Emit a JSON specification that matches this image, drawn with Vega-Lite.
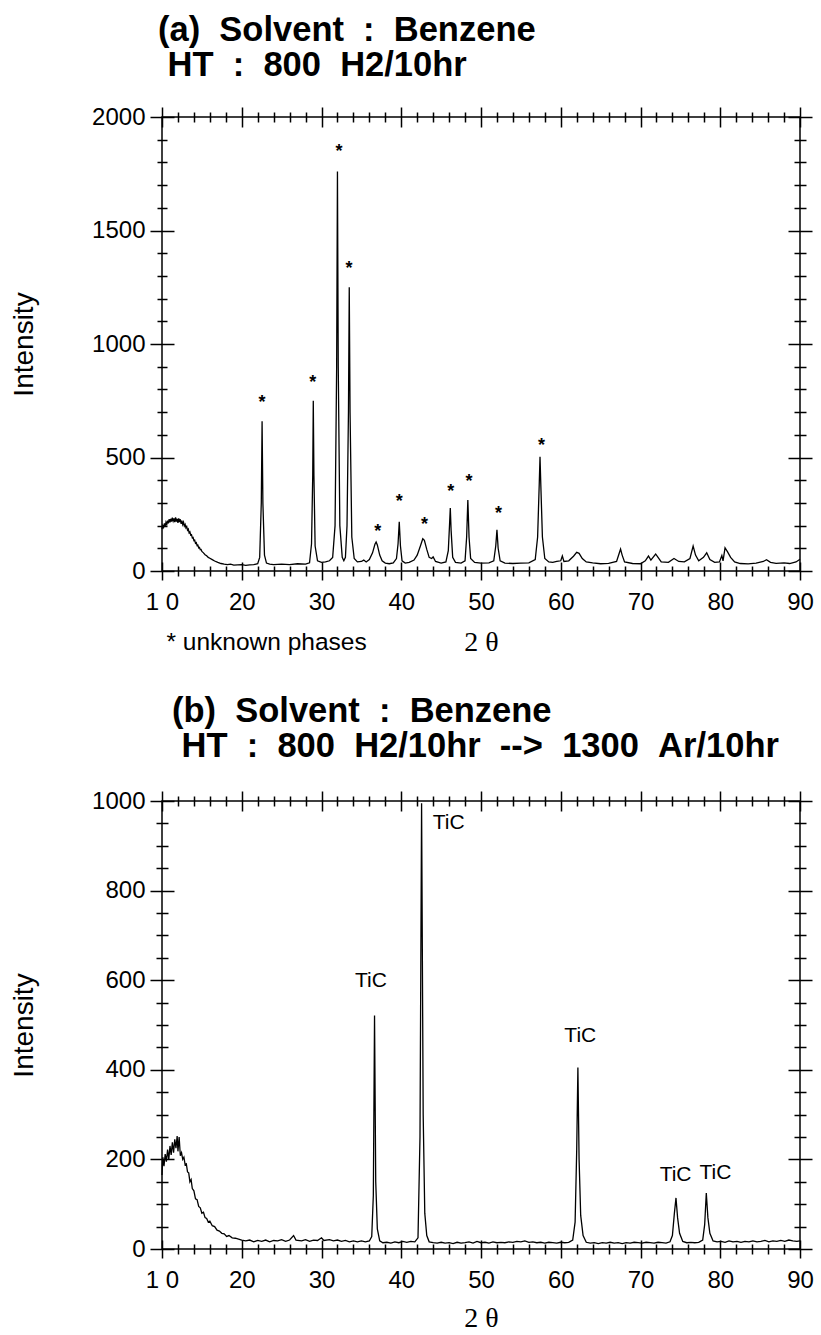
{
  "$schema": "https://vega.github.io/schema/vega-lite/v6.json",
  "background": "white",
  "padding": {"left": 9, "top": 11, "right": 5, "bottom": 2},
  "spacing": 35,
  "config": {
    "font": "Liberation Sans",
    "axis": {"grid": false, "domain": false, "tickColor": "black", "tickWidth": 1.5, "labelColor": "black", "titleColor": "black", "labelFont": "Liberation Sans", "titleFont": "Liberation Sans"},
    "view": {"stroke": "black", "strokeWidth": 1.5},
    "title": {"color": "black"}
  },
  "datasets": {
    "a_scan": [
      {"t":10.0,"i":185},{"t":10.1,"i":200},{"t":10.2,"i":192},{"t":10.3,"i":210},{"t":10.4,"i":198},{"t":10.5,"i":215},{"t":10.6,"i":205},{"t":10.7,"i":222},{"t":10.8,"i":210},{"t":10.9,"i":228},{"t":11.0,"i":214},{"t":11.1,"i":230},{"t":11.2,"i":218},{"t":11.3,"i":235},{"t":11.4,"i":220},{"t":11.5,"i":232},{"t":11.6,"i":215},{"t":11.7,"i":236},{"t":11.8,"i":218},{"t":11.9,"i":230},{"t":12.0,"i":212},{"t":12.1,"i":232},{"t":12.2,"i":215},{"t":12.3,"i":228},{"t":12.4,"i":208},{"t":12.5,"i":222},{"t":12.6,"i":205},{"t":12.7,"i":215},{"t":12.8,"i":198},{"t":12.9,"i":205},{"t":13.0,"i":190},{"t":13.1,"i":196},{"t":13.2,"i":180},{"t":13.3,"i":185},{"t":13.4,"i":168},{"t":13.5,"i":172},{"t":13.6,"i":158},{"t":13.7,"i":160},{"t":13.8,"i":146},{"t":13.9,"i":148},{"t":14.0,"i":134},{"t":14.1,"i":136},{"t":14.2,"i":122},{"t":14.3,"i":125},{"t":14.4,"i":112},{"t":14.5,"i":114},{"t":14.6,"i":102},{"t":14.7,"i":104},{"t":14.8,"i":94},{"t":14.9,"i":95},{"t":15.0,"i":86},{"t":15.2,"i":80},{"t":15.4,"i":72},{"t":15.6,"i":67},{"t":15.8,"i":60},{"t":16.0,"i":56},{"t":16.3,"i":50},{"t":16.6,"i":44},{"t":17.0,"i":38},{"t":17.4,"i":33},{"t":17.8,"i":30},{"t":18.2,"i":28},{"t":18.6,"i":30},{"t":19.0,"i":26},{"t":19.5,"i":27},{"t":20.0,"i":28},{"t":20.5,"i":25},{"t":21.0,"i":27},{"t":21.5,"i":28},{"t":22.0,"i":32},
      {"t":22.25,"i":60},{"t":22.45,"i":300},{"t":22.55,"i":660},{"t":22.65,"i":300},{"t":22.85,"i":70},{"t":23.1,"i":35},{"t":23.5,"i":30},{"t":24.0,"i":28},{"t":25.0,"i":30},{"t":26.0,"i":28},{"t":27.0,"i":32},{"t":28.0,"i":30},{"t":28.5,"i":36},
      {"t":28.75,"i":120},{"t":28.9,"i":420},{"t":28.97,"i":750},{"t":29.05,"i":420},{"t":29.2,"i":110},{"t":29.5,"i":45},{"t":30.0,"i":38},{"t":30.5,"i":40},{"t":31.0,"i":45},{"t":31.4,"i":60},
      {"t":31.7,"i":200},{"t":31.9,"i":900},{"t":32.0,"i":1760},{"t":32.1,"i":900},{"t":32.3,"i":200},{"t":32.6,"i":60},{"t":32.8,"i":45},{"t":33.0,"i":60},{"t":33.2,"i":200},{"t":33.38,"i":700},{"t":33.48,"i":1250},{"t":33.58,"i":700},{"t":33.8,"i":150},{"t":34.1,"i":55},{"t":34.5,"i":40},{"t":35.0,"i":42},{"t":35.3,"i":48},{"t":35.6,"i":40},{"t":36.0,"i":50},
      {"t":36.4,"i":80},{"t":36.7,"i":118},{"t":36.85,"i":128},{"t":37.0,"i":115},{"t":37.3,"i":70},{"t":37.6,"i":45},{"t":38.0,"i":35},{"t":38.5,"i":32},{"t":39.0,"i":36},{"t":39.4,"i":55},{"t":39.6,"i":120},{"t":39.75,"i":217},{"t":39.9,"i":110},{"t":40.1,"i":45},{"t":40.5,"i":35},{"t":41.0,"i":38},{"t":41.6,"i":48},
      {"t":42.0,"i":70},{"t":42.4,"i":110},{"t":42.7,"i":142},{"t":42.9,"i":135},{"t":43.2,"i":95},{"t":43.5,"i":60},{"t":43.8,"i":55},{"t":44.0,"i":62},{"t":44.3,"i":42},{"t":45.0,"i":35},{"t":45.6,"i":40},
      {"t":45.9,"i":90},{"t":46.05,"i":200},{"t":46.15,"i":277},{"t":46.25,"i":180},{"t":46.45,"i":60},{"t":46.8,"i":38},{"t":47.5,"i":35},{"t":48.0,"i":45},{"t":48.2,"i":150},{"t":48.35,"i":313},{"t":48.5,"i":150},{"t":48.7,"i":55},{"t":49.2,"i":38},{"t":50.0,"i":35},{"t":51.0,"i":36},{"t":51.6,"i":45},{"t":51.85,"i":110},{"t":52.0,"i":181},{"t":52.15,"i":100},{"t":52.4,"i":45},{"t":53.0,"i":35},{"t":54.0,"i":33},{"t":55.0,"i":35},{"t":56.0,"i":36},
      {"t":56.8,"i":50},{"t":57.1,"i":150},{"t":57.3,"i":380},{"t":57.4,"i":503},{"t":57.5,"i":380},{"t":57.7,"i":150},{"t":58.0,"i":55},{"t":58.5,"i":40},{"t":59.0,"i":38},{"t":59.5,"i":42},{"t":60.0,"i":45},{"t":60.2,"i":66},{"t":60.4,"i":42},{"t":61.0,"i":45},{"t":61.6,"i":65},{"t":62.0,"i":82},{"t":62.3,"i":78},{"t":62.7,"i":55},{"t":63.2,"i":40},{"t":64.0,"i":36},{"t":65.0,"i":32},{"t":66.0,"i":34},
      {"t":67.0,"i":42},{"t":67.3,"i":75},{"t":67.5,"i":97},{"t":67.7,"i":70},{"t":68.0,"i":40},{"t":69.0,"i":33},{"t":70.0,"i":32},{"t":70.6,"i":45},{"t":71.0,"i":66},{"t":71.3,"i":48},{"t":71.9,"i":75},{"t":72.2,"i":60},{"t":72.6,"i":40},{"t":73.5,"i":38},{"t":74.2,"i":55},{"t":74.8,"i":42},{"t":75.5,"i":40},{"t":76.2,"i":55},{"t":76.6,"i":110},{"t":76.9,"i":70},{"t":77.3,"i":45},{"t":77.9,"i":60},{"t":78.3,"i":80},{"t":78.7,"i":50},{"t":79.3,"i":38},{"t":79.9,"i":40},{"t":80.2,"i":68},{"t":80.35,"i":45},{"t":80.6,"i":102},{"t":80.9,"i":85},{"t":81.3,"i":60},{"t":81.8,"i":40},{"t":82.5,"i":33},{"t":83.5,"i":31},{"t":84.5,"i":35},{"t":85.4,"i":42},{"t":85.8,"i":50},{"t":86.3,"i":38},{"t":87.0,"i":34},{"t":88.0,"i":36},{"t":88.7,"i":33},{"t":89.5,"i":40},{"t":90.0,"i":52}
    ],
    "a_marks": [
      {"t":22.55,"i":762,"label":"*"},{"t":28.9,"i":850,"label":"*"},{"t":32.2,"i":1868,"label":"*"},{"t":33.45,"i":1352,"label":"*"},{"t":37.05,"i":195,"label":"*"},{"t":39.76,"i":327,"label":"*"},{"t":42.9,"i":225,"label":"*"},{"t":46.2,"i":371,"label":"*"},{"t":48.5,"i":415,"label":"*"},{"t":52.2,"i":273,"label":"*"},{"t":57.6,"i":574,"label":"*"}
    ],
    "b_scan": [
      {"t":10.0,"i":165},{"t":10.1,"i":205},{"t":10.25,"i":185},{"t":10.4,"i":212},{"t":10.55,"i":195},{"t":10.7,"i":222},{"t":10.85,"i":200},{"t":11.0,"i":230},{"t":11.15,"i":210},{"t":11.3,"i":238},{"t":11.45,"i":215},{"t":11.6,"i":245},{"t":11.75,"i":225},{"t":11.9,"i":252},{"t":12.0,"i":218},{"t":12.15,"i":250},{"t":12.3,"i":208},{"t":12.45,"i":215},{"t":12.6,"i":200},{"t":12.75,"i":205},{"t":12.9,"i":188},{"t":13.05,"i":190},{"t":13.2,"i":172},{"t":13.35,"i":170},{"t":13.5,"i":150},{"t":13.65,"i":155},{"t":13.8,"i":135},{"t":14.0,"i":130},{"t":14.2,"i":112},{"t":14.4,"i":110},{"t":14.6,"i":95},{"t":14.8,"i":92},{"t":15.0,"i":80},{"t":15.2,"i":82},{"t":15.4,"i":70},{"t":15.6,"i":68},{"t":15.8,"i":60},{"t":16.0,"i":62},{"t":16.3,"i":52},{"t":16.6,"i":50},{"t":16.9,"i":42},{"t":17.2,"i":40},{"t":17.5,"i":35},{"t":17.8,"i":34},{"t":18.1,"i":28},{"t":18.4,"i":30},{"t":18.8,"i":25},{"t":19.2,"i":24},{"t":19.6,"i":22},{"t":20.0,"i":20},
      {"t":20.5,"i":18},{"t":21.0,"i":20},{"t":21.5,"i":16},{"t":22.0,"i":19},{"t":22.5,"i":17},{"t":23.0,"i":20},{"t":23.5,"i":16},{"t":24.0,"i":19},{"t":24.5,"i":18},{"t":25.0,"i":21},{"t":25.5,"i":17},{"t":26.0,"i":20},{"t":26.5,"i":30},{"t":26.8,"i":20},{"t":27.5,"i":18},{"t":28.0,"i":21},{"t":28.5,"i":17},{"t":29.0,"i":20},{"t":29.5,"i":19},{"t":30.0,"i":25},{"t":30.3,"i":19},{"t":31.0,"i":21},{"t":31.5,"i":18},{"t":32.0,"i":20},{"t":32.5,"i":17},{"t":33.0,"i":19},{"t":33.5,"i":16},{"t":34.0,"i":18},{"t":34.5,"i":16},{"t":35.0,"i":18},{"t":35.5,"i":16},{"t":36.0,"i":18},
      {"t":36.3,"i":28},{"t":36.5,"i":120},{"t":36.65,"i":521},{"t":36.8,"i":150},{"t":37.0,"i":45},{"t":37.3,"i":18},{"t":37.7,"i":14},{"t":38.2,"i":15},{"t":38.7,"i":13},{"t":39.2,"i":16},{"t":39.7,"i":14},{"t":40.2,"i":17},{"t":40.7,"i":15},{"t":41.2,"i":17},{"t":41.7,"i":16},
      {"t":42.1,"i":25},{"t":42.35,"i":250},{"t":42.55,"i":995},{"t":42.75,"i":300},{"t":42.95,"i":80},{"t":43.2,"i":30},{"t":43.5,"i":16},{"t":44.0,"i":14},{"t":44.5,"i":13},{"t":45.0,"i":15},{"t":45.5,"i":13},{"t":46.0,"i":14},{"t":46.5,"i":12},{"t":47.0,"i":15},{"t":47.5,"i":13},{"t":48.0,"i":14},{"t":48.5,"i":16},{"t":49.0,"i":13},{"t":49.5,"i":17},{"t":50.0,"i":14},{"t":50.5,"i":15},{"t":51.0,"i":13},{"t":51.5,"i":16},{"t":52.0,"i":14},{"t":52.5,"i":15},{"t":53.0,"i":14},{"t":53.5,"i":16},{"t":54.0,"i":15},{"t":54.5,"i":17},{"t":55.0,"i":16},{"t":55.5,"i":18},{"t":56.0,"i":15},{"t":56.5,"i":16},{"t":57.0,"i":14},{"t":57.5,"i":15},{"t":58.0,"i":13},{"t":58.5,"i":15},{"t":59.0,"i":14},{"t":59.5,"i":13},{"t":60.0,"i":15},{"t":60.5,"i":14},{"t":61.0,"i":15},
      {"t":61.5,"i":20},{"t":61.8,"i":60},{"t":62.0,"i":220},{"t":62.15,"i":405},{"t":62.3,"i":200},{"t":62.5,"i":75},{"t":62.8,"i":30},{"t":63.2,"i":15},{"t":63.7,"i":13},{"t":64.2,"i":14},{"t":64.7,"i":12},{"t":65.2,"i":14},{"t":65.7,"i":13},{"t":66.2,"i":15},{"t":66.7,"i":13},{"t":67.2,"i":14},{"t":67.7,"i":12},{"t":68.2,"i":14},{"t":68.7,"i":13},{"t":69.2,"i":15},{"t":69.7,"i":14},{"t":70.2,"i":13},{"t":70.7,"i":15},{"t":71.2,"i":14},{"t":71.7,"i":13},{"t":72.2,"i":15},{"t":72.7,"i":14},{"t":73.2,"i":13},{"t":73.7,"i":16},
      {"t":74.0,"i":30},{"t":74.25,"i":80},{"t":74.45,"i":114},{"t":74.65,"i":70},{"t":74.9,"i":35},{"t":75.3,"i":17},{"t":75.8,"i":14},{"t":76.3,"i":15},{"t":76.8,"i":14},{"t":77.3,"i":15},{"t":77.8,"i":20},{"t":78.05,"i":55},{"t":78.25,"i":125},{"t":78.45,"i":70},{"t":78.7,"i":35},{"t":79.1,"i":18},{"t":79.6,"i":16},{"t":80.1,"i":17},{"t":80.6,"i":15},{"t":81.1,"i":18},{"t":81.6,"i":16},{"t":82.1,"i":17},{"t":82.6,"i":15},{"t":83.1,"i":17},{"t":83.6,"i":16},{"t":84.1,"i":18},{"t":84.6,"i":16},{"t":85.1,"i":17},{"t":85.6,"i":19},{"t":86.1,"i":16},{"t":86.6,"i":18},{"t":87.1,"i":17},{"t":87.6,"i":19},{"t":88.1,"i":17},{"t":88.6,"i":20},{"t":89.1,"i":18},{"t":89.6,"i":17},{"t":90.0,"i":18}
    ],
    "b_marks": [
      {"t":36.2,"i":598,"label":"TiC"},{"t":45.95,"i":950,"label":"TiC"},{"t":62.45,"i":476,"label":"TiC"},{"t":74.4,"i":165,"label":"TiC"},{"t":79.4,"i":170,"label":"TiC"}
    ]
  },
  "vconcat": [
    {
      "width": 638,
      "height": 454,
      "title": {
        "text": ["(a) \u00a0Solvent \u00a0: \u00a0Benzene", "\u200b\u00a0HT \u00a0: \u00a0800 \u00a0H2/10hr"],
        "anchor": "start", "frame": "group", "font": "Liberation Sans", "fontSize": 34.5, "fontWeight": "bold",
        "lineHeight": 35, "baseline": "bottom", "offset": -12, "dx": -4
      },
      "resolve": {"axis": {"x": "independent", "y": "independent"}},
      "layer": [
        {
          "data": {"name": "a_scan"},
          "mark": {"type": "line", "color": "black", "strokeWidth": 1.3},
          "encoding": {
            "x": {"field": "t", "type": "quantitative", "scale": {"domain": [10, 90], "nice": false, "zero": false},
              "axis": {"orient": "bottom", "values": [10,20,30,40,50,60,70,80,90], "offset": -9, "tickSize": 18, "labelPadding": 10, "labelFontSize": 24, "labelFlush": false, "labelOverlap": false, "labelExpr": "datum.value == 10 ? '1 0' : datum.label", "title": "2 θ", "titleFont": "Liberation Serif", "titleFontSize": 28, "titleFontWeight": "normal", "titleY": 80, "titleBaseline": "middle"}},
            "y": {"field": "i", "type": "quantitative", "scale": {"domain": [0, 2000], "nice": false},
              "axis": {"orient": "left", "values": [0,500,1000,1500,2000], "format": "d", "offset": -12, "tickSize": 24, "labelPadding": 5, "labelFontSize": 24, "labelFlush": false, "labelOverlap": false, "title": "Intensity", "titleFontSize": 28, "titleFontWeight": "normal", "titlePadding": 53}}
          }
        },
        {
          "data": {"name": "a_marks"},
          "mark": {"type": "text", "font": "Liberation Sans", "fontSize": 18, "fontWeight": "bold", "baseline": "alphabetic", "align": "center", "dy": 10, "color": "black"},
          "encoding": {
            "x": {"field": "t", "type": "quantitative", "scale": {"domain": [10, 90], "nice": false, "zero": false},
              "axis": {"orient": "bottom", "values": [12,14,16,18,22,24,26,28,32,34,36,38,42,44,46,48,52,54,56,58,62,64,66,68,72,74,76,78,82,84,86,88], "offset": -5, "tickSize": 10, "labels": false, "title": "* unknown phases", "titleFontSize": 24.5, "titleFontWeight": "normal", "titleAnchor": "start", "titleAlign": "left", "titleX": 4, "titleY": 76, "titleBaseline": "middle"}},
            "y": {"field": "i", "type": "quantitative", "scale": {"domain": [0, 2000], "nice": false},
              "axis": {"orient": "left", "values": [100,200,300,400,600,700,800,900,1100,1200,1300,1400,1600,1700,1800,1900], "offset": -5, "tickSize": 10, "labels": false, "title": null}},
            "text": {"field": "label"}
          }
        },
        {
          "data": {"name": "a_marks"},
          "mark": {"type": "point", "opacity": 0},
          "encoding": {
            "x": {"field": "t", "type": "quantitative", "scale": {"domain": [10, 90], "nice": false, "zero": false},
              "axis": {"orient": "top", "values": [10,20,30,40,50,60,70,80,90], "offset": -10, "tickSize": 20, "labels": false, "title": null}},
            "y": {"field": "i", "type": "quantitative", "scale": {"domain": [0, 2000], "nice": false},
              "axis": {"orient": "right", "values": [0,500,1000,1500,2000], "offset": -12, "tickSize": 24, "labels": false, "title": null}}
          }
        },
        {
          "data": {"name": "a_marks"},
          "mark": {"type": "point", "opacity": 0},
          "encoding": {
            "x": {"field": "t", "type": "quantitative", "scale": {"domain": [10, 90], "nice": false, "zero": false},
              "axis": {"orient": "top", "values": [12,14,16,18,22,24,26,28,32,34,36,38,42,44,46,48,52,54,56,58,62,64,66,68,72,74,76,78,82,84,86,88], "offset": -5, "tickSize": 10, "labels": false, "title": null}},
            "y": {"field": "i", "type": "quantitative", "scale": {"domain": [0, 2000], "nice": false},
              "axis": {"orient": "right", "values": [100,200,300,400,600,700,800,900,1100,1200,1300,1400,1600,1700,1800,1900], "offset": -6, "tickSize": 12, "labels": false, "title": null}}
          }
        }
      ]
    },
    {
      "width": 638,
      "height": 448,
      "title": {
        "text": ["(b) \u00a0Solvent \u00a0: \u00a0Benzene", "\u200b\u00a0HT \u00a0: \u00a0800 \u00a0H2/10hr \u00a0--> \u00a01300 \u00a0Ar/10hr"],
        "anchor": "start", "frame": "group", "font": "Liberation Sans", "fontSize": 34.5, "fontWeight": "bold",
        "lineHeight": 35, "baseline": "bottom", "offset": -9, "dx": 10
      },
      "resolve": {"axis": {"x": "independent", "y": "independent"}},
      "layer": [
        {
          "data": {"name": "b_scan"},
          "mark": {"type": "line", "color": "black", "strokeWidth": 1.3},
          "encoding": {
            "x": {"field": "t", "type": "quantitative", "scale": {"domain": [10, 90], "nice": false, "zero": false},
              "axis": {"orient": "bottom", "values": [10,20,30,40,50,60,70,80,90], "offset": -9, "tickSize": 18, "labelPadding": 10, "labelFontSize": 24, "labelFlush": false, "labelOverlap": false, "labelExpr": "datum.value == 10 ? '1 0' : datum.label", "title": "2 θ", "titleFont": "Liberation Serif", "titleFontSize": 28, "titleFontWeight": "normal", "titleY": 78, "titleBaseline": "middle"}},
            "y": {"field": "i", "type": "quantitative", "scale": {"domain": [0, 1000], "nice": false},
              "axis": {"orient": "left", "values": [0,200,400,600,800,1000], "format": "d", "offset": -12, "tickSize": 24, "labelPadding": 5, "labelFontSize": 24, "labelFlush": false, "labelOverlap": false, "title": "Intensity", "titleFontSize": 28, "titleFontWeight": "normal", "titlePadding": 53}}
          }
        },
        {
          "data": {"name": "b_marks"},
          "mark": {"type": "text", "font": "Liberation Sans", "fontSize": 21, "baseline": "middle", "align": "center", "color": "black"},
          "encoding": {
            "x": {"field": "t", "type": "quantitative", "scale": {"domain": [10, 90], "nice": false, "zero": false},
              "axis": {"orient": "bottom", "values": [12,14,16,18,22,24,26,28,32,34,36,38,42,44,46,48,52,54,56,58,62,64,66,68,72,74,76,78,82,84,86,88], "offset": -5, "tickSize": 10, "labels": false, "title": null}},
            "y": {"field": "i", "type": "quantitative", "scale": {"domain": [0, 1000], "nice": false},
              "axis": {"orient": "left", "values": [50,100,150,250,300,350,450,500,550,650,700,750,850,900,950], "offset": -6, "tickSize": 12, "labels": false, "title": null}},
            "text": {"field": "label"}
          }
        },
        {
          "data": {"name": "b_marks"},
          "mark": {"type": "point", "opacity": 0},
          "encoding": {
            "x": {"field": "t", "type": "quantitative", "scale": {"domain": [10, 90], "nice": false, "zero": false},
              "axis": {"orient": "top", "values": [10,20,30,40,50,60,70,80,90], "offset": -10, "tickSize": 20, "labels": false, "title": null}},
            "y": {"field": "i", "type": "quantitative", "scale": {"domain": [0, 1000], "nice": false},
              "axis": {"orient": "right", "values": [0,200,400,600,800,1000], "offset": -12, "tickSize": 24, "labels": false, "title": null}}
          }
        },
        {
          "data": {"name": "b_marks"},
          "mark": {"type": "point", "opacity": 0},
          "encoding": {
            "x": {"field": "t", "type": "quantitative", "scale": {"domain": [10, 90], "nice": false, "zero": false},
              "axis": {"orient": "top", "values": [12,14,16,18,22,24,26,28,32,34,36,38,42,44,46,48,52,54,56,58,62,64,66,68,72,74,76,78,82,84,86,88], "offset": -5, "tickSize": 10, "labels": false, "title": null}},
            "y": {"field": "i", "type": "quantitative", "scale": {"domain": [0, 1000], "nice": false},
              "axis": {"orient": "right", "values": [50,100,150,250,300,350,450,500,550,650,700,750,850,900,950], "offset": -6, "tickSize": 12, "labels": false, "title": null}}
          }
        }
      ]
    }
  ]
}
